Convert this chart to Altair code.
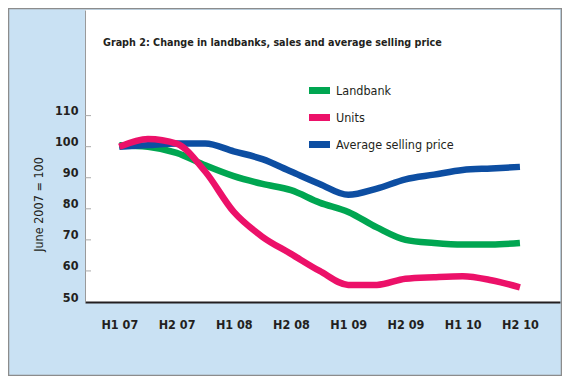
import altair as alt
import pandas as pd

# ---- data ----
x_labels = ["H1 07", "H2 07", "H1 08", "H2 08", "H1 09", "H2 09", "H1 10", "H2 10"]
periods = [0, 0.5, 1, 1.5, 2, 2.5, 3, 3.5, 4, 4.5, 5, 5.5, 6, 6.5, 7]
landbank = [100.5, 100, 98, 94, 90.5, 88, 86, 82, 79, 74, 70, 69, 68.5, 68.5, 69]
units = [100, 102.5, 101, 92, 79, 71, 65.5, 60, 55.5, 55.5, 57.5, 58, 58.3, 57, 54.7]
avg_price = [100, 100.5, 101, 101, 98.5, 96, 92, 88, 84.5, 86.5, 89.5, 91, 92.5, 93, 93.5]
series_names = ["Landbank", "Units", "Average selling price"]
series_colors = ["#00a651", "#ec1169", "#0d4ea2"]
y_ticks = [50, 60, 70, 80, 90, 100, 110]
title_text = "Graph 2: Change in landbanks, sales and average selling price"

FONT = "DejaVu Sans Condensed, DejaVu Sans, sans-serif"
TXT = "#231f20"

rows = []
for name, vals in zip(series_names, [landbank, units, avg_price]):
    for p, v in zip(periods, vals):
        rows.append({"period": p, "value": v, "series": name})
df = pd.DataFrame(rows)

W, H = 475, 292
label_expr = "[" + ",".join("'" + s + "'" for s in x_labels) + "][datum.value]"

x_scale = alt.Scale(domain=[-0.6, 7.7], nice=False, zero=False)
y_scale = alt.Scale(domain=[50, 144], nice=False, zero=False)

x_enc = alt.X(
    "period:Q", scale=x_scale,
    axis=alt.Axis(
        values=list(range(len(x_labels))), labelExpr=label_expr, title=None,
        ticks=False, grid=False, domainColor=TXT, domainWidth=2,
        labelFontSize=12.5, labelColor=TXT, labelFont=FONT, labelPadding=16,
        labelFontWeight="bold",
    ),
)
y_axis = alt.Axis(
    values=y_ticks, title="June 2007 = 100", ticks=False, grid=False,
    domainColor="#9a9a9a", domainWidth=1,
    labelFontSize=12.5, labelColor=TXT, labelFont=FONT, labelPadding=7,
    labelOffset=-5, labelFontWeight="bold",
    titleFont=FONT, titleFontSize=12.5, titleFontWeight="normal", titleColor=TXT,
    titleX=-47, titleY=194, titleAngle=270, titleAlign="center",
    titleBaseline="middle",
)
y_enc = alt.Y("value:Q", scale=y_scale, axis=y_axis)
color_enc = alt.Color(
    "series:N",
    scale=alt.Scale(domain=series_names, range=series_colors),
    legend=alt.Legend(
        title=None, orient="none", legendX=226, legendY=72,
        symbolType="M-2.1,0H2.1", symbolSize=100, symbolStrokeWidth=7,
        labelFontSize=12.5, labelFont=FONT, labelColor=TXT, labelOffset=8,
        rowPadding=-2, padding=0,
    ),
)

def line_layer(name):
    return (
        alt.Chart(df)
        .transform_filter(alt.datum.series == name)
        .mark_line(interpolate="monotone", strokeWidth=6.5, strokeCap="butt")
        .encode(x=x_enc, y=y_enc, color=color_enc)
    )

dummy = pd.DataFrame({"k": [0]})
border = alt.Chart(dummy).mark_rect(
    fillOpacity=0, stroke="#8c8c8c", strokeWidth=1.5
).encode(
    x=alt.value(-76.5), x2=alt.value(W + 1.5), y=alt.value(-1.5), y2=alt.value(H + 73.5)
)

tick_df = pd.DataFrame({"value": y_ticks[1:]})
ticks = alt.Chart(tick_df).mark_rule(color="#aaaaaa", strokeWidth=1).encode(
    x=alt.value(0), x2=alt.value(6), y=y_enc,
)

title = alt.Chart(dummy).mark_text(
    text=title_text, font=FONT, fontSize=10.7, fontWeight="bold", color=TXT,
    align="left", baseline="middle",
).encode(x=alt.value(18), y=alt.value(33))

chart = alt.layer(
    border, line_layer("Landbank"), line_layer("Average selling price"),
    line_layer("Units"), ticks, title,
).properties(
    width=W, height=H,
    padding={"left": 77, "top": 2, "right": 2, "bottom": 74},
    autosize=alt.AutoSizeParams(type="none"),
    background="#c9e1f3",
).configure_view(fill="white", strokeWidth=0)

chart.save("out.html", embed_options={"renderer": "svg", "actions": False})
